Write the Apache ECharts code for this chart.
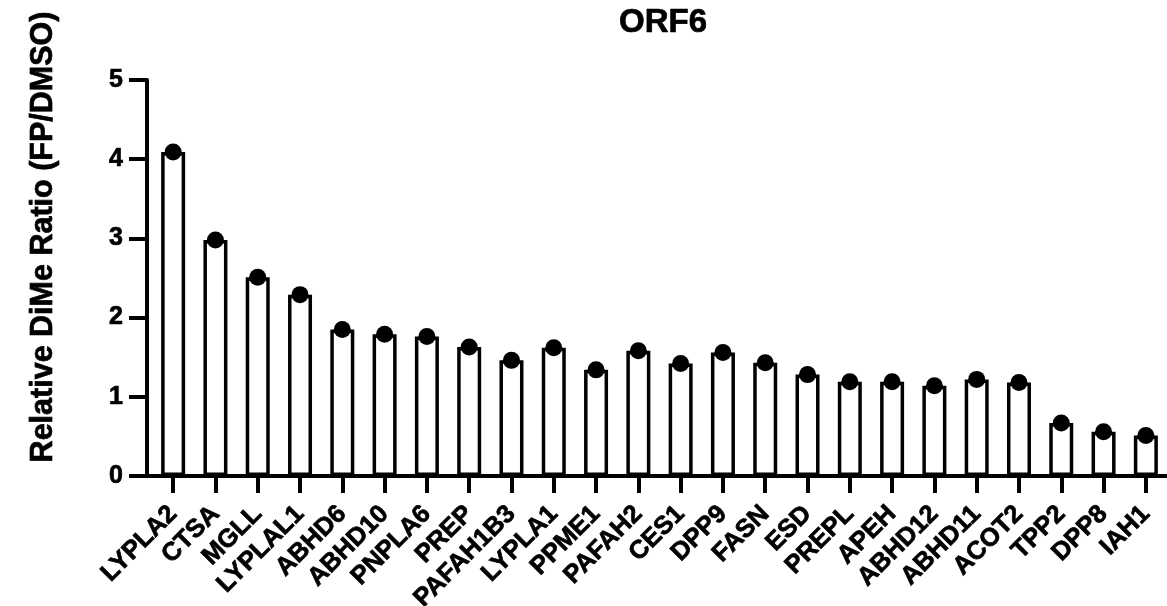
<!DOCTYPE html>
<html>
<head>
<meta charset="utf-8">
<script src="https://cdn.jsdelivr.net/npm/echarts@6/dist/echarts.min.js"></script>
<style>
html,body{margin:0;padding:0;background:#fff;}
#chart{width:1167px;height:606px;}
</style>
</head>
<body>
<div id="chart"></div>
<script>
const chartTitle = 'ORF6';
const yAxisTitle = 'Relative DiMe Ratio (FP/DMSO)';
const categories = ['LYPLA2','CTSA','MGLL','LYPLAL1','ABHD6','ABHD10','PNPLA6','PREP','PAFAH1B3','LYPLA1','PPME1','PAFAH2','CES1','DPP9','FASN','ESD','PREPL','APEH','ABHD12','ABHD11','ACOT2','TPP2','DPP8','IAH1'];
const ratios = [4.09, 2.98, 2.51, 2.29, 1.85, 1.79, 1.76, 1.63, 1.46, 1.62, 1.34, 1.58, 1.42, 1.56, 1.43, 1.28, 1.19, 1.19, 1.14, 1.22, 1.18, 0.67, 0.56, 0.51];
const yTicks = [0, 1, 2, 3, 4, 5];

const FONT = '"Liberation Sans", Arial, Helvetica, sans-serif';
const chart = echarts.init(document.getElementById('chart'), null, {renderer: 'canvas'});
const heavy = {textBorderColor: '#000', textBorderWidth: 0.7};
const option = {
  backgroundColor: '#ffffff',
  animation: false,
  title: {
    text: chartTitle,
    left: 614,
    top: 1,
    textStyle: Object.assign({fontFamily: FONT, fontWeight: 'bold', fontSize: 33, color: '#000'}, heavy)
  },
  grid: [
    {left: 152, right: 0, top: 80, bottom: 130, containLabel: false, outerBoundsMode: 'none'},
    {left: 147, right: 0, top: 80, bottom: 130, containLabel: false, outerBoundsMode: 'none'}
  ],
  xAxis: [
    {
      type: 'category', gridIndex: 0, data: categories, boundaryGap: true,
      axisLine: {show: false},
      axisTick: {show: true, alignWithLabel: true, length: 17, lineStyle: {color: '#000', width: 4}},
      axisLabel: Object.assign({interval: 0, rotate: 45, margin: 34, color: '#000', fontFamily: FONT, fontWeight: 'bold', fontSize: 25.5}, heavy),
      splitLine: {show: false}
    },
    {
      type: 'value', gridIndex: 1, min: 0, max: 1,
      axisLine: {show: true, lineStyle: {color: '#000', width: 4}},
      axisTick: {show: false}, axisLabel: {show: false}, splitLine: {show: false}
    }
  ],
  yAxis: [
    {type: 'value', gridIndex: 0, min: yTicks[0], max: yTicks[yTicks.length - 1], interval: 1, show: false},
    {
      type: 'value', gridIndex: 1, min: yTicks[0], max: yTicks[yTicks.length - 1], interval: 1,
      name: yAxisTitle, nameLocation: 'middle', nameGap: 88,
      nameTextStyle: Object.assign({fontFamily: FONT, fontWeight: 'bold', fontSize: 30.5, color: '#000', padding: [0, 0, 0, 82]}, heavy),
      axisLine: {show: true, lineStyle: {color: '#000', width: 4}},
      axisTick: {show: true, length: 18, lineStyle: {color: '#000', width: 4}},
      axisLabel: Object.assign({margin: 24, color: '#000', fontFamily: FONT, fontWeight: 'bold', fontSize: 25}, heavy),
      splitLine: {show: false}
    }
  ],
  series: [
    {
      type: 'bar', xAxisIndex: 0, yAxisIndex: 0, data: ratios, barWidth: 24,
      itemStyle: {color: '#ffffff', borderColor: '#000', borderWidth: 3.5},
      z: 2
    },
    {
      type: 'scatter', xAxisIndex: 0, yAxisIndex: 0, data: ratios, symbol: 'circle', symbolSize: 17,
      itemStyle: {color: '#000', opacity: 1}, z: 4
    }
  ]
};
chart.setOption(option);
</script>
</body>
</html>
